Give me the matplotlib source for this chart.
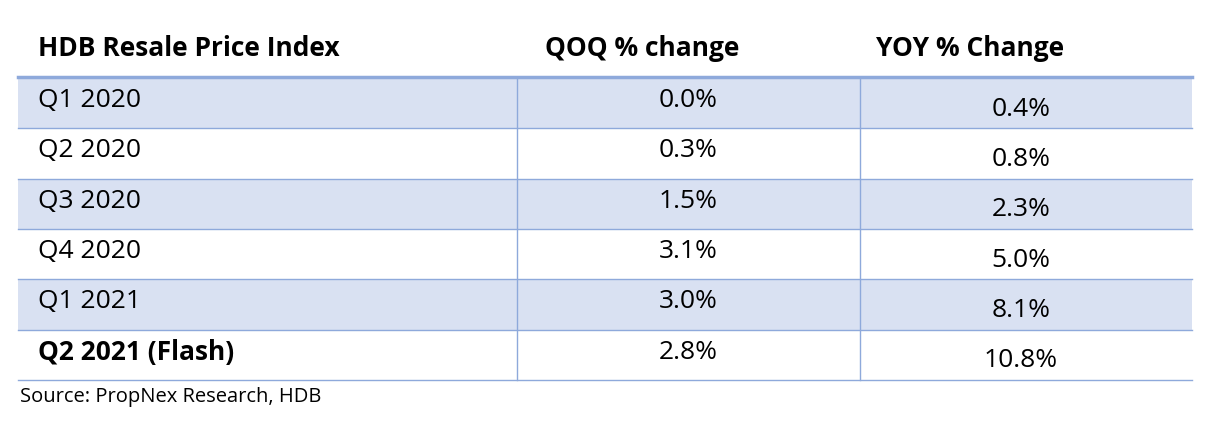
import matplotlib
matplotlib.use("Agg")
import matplotlib.pyplot as plt

headers = ["HDB Resale Price Index", "QOQ % change", "YOY % Change"]
periods = ["Q1 2020", "Q2 2020", "Q3 2020", "Q4 2020", "Q1 2021", "Q2 2021 (Flash)"]
qoq = ["0.0%", "0.3%", "1.5%", "3.1%", "3.0%", "2.8%"]
yoy = ["0.4%", "0.8%", "2.3%", "5.0%", "8.1%", "10.8%"]
source = "Source: PropNex Research, HDB"

W, H = 1218, 425
fig = plt.figure(figsize=(W/100, H/100), dpi=100)
ax = fig.add_axes([0, 0, 1, 1])
ax.set_xlim(0, W); ax.set_ylim(H, 0); ax.axis("off")
plt.rcParams['font.family'] = ['Open Sans', 'DejaVu Sans']

L, C1, C2, R = 18, 517, 860, 1192
top0, rh = 78, 50.3
shade, line = "#D9E1F2", "#8EA9DB"
fs = 19

ax.text(38, 48, headers[0], fontsize=fs, fontweight="bold", va="center", ha="left")
ax.text(545, 48, headers[1], fontsize=fs, fontweight="bold", va="center", ha="left")
ax.text(876, 48, headers[2], fontsize=fs, fontweight="bold", va="center", ha="left")

for i, (p, q, y) in enumerate(zip(periods, qoq, yoy)):
    t = top0 + i*rh
    if i % 2 == 0:
        ax.add_patch(plt.Rectangle((L, t), R-L, rh, color=shade, lw=0, zorder=0))
    ax.plot([L, R], [t+rh, t+rh], color=line, lw=1)
    ax.text(38, t+rh*0.45, p, fontsize=fs, va="center", ha="left",
            fontweight="bold" if i == len(periods)-1 else "normal")
    ax.text((C1+C2)/2, t+rh*0.45, q, fontsize=fs, va="center", ha="center")
    ax.text((C2+R)/2 - 5, t+rh*0.62, y, fontsize=fs, va="center", ha="center")

bot = top0 + len(periods)*rh
for x in (C1, C2):
    ax.plot([x, x], [top0, bot], color=line, lw=1)
ax.plot([L, R], [top0-1, top0-1], color=line, lw=2.5)
ax.text(20, 397, source, fontsize=14.5, va="center", ha="left")

fig.savefig("out.png", dpi=100)
